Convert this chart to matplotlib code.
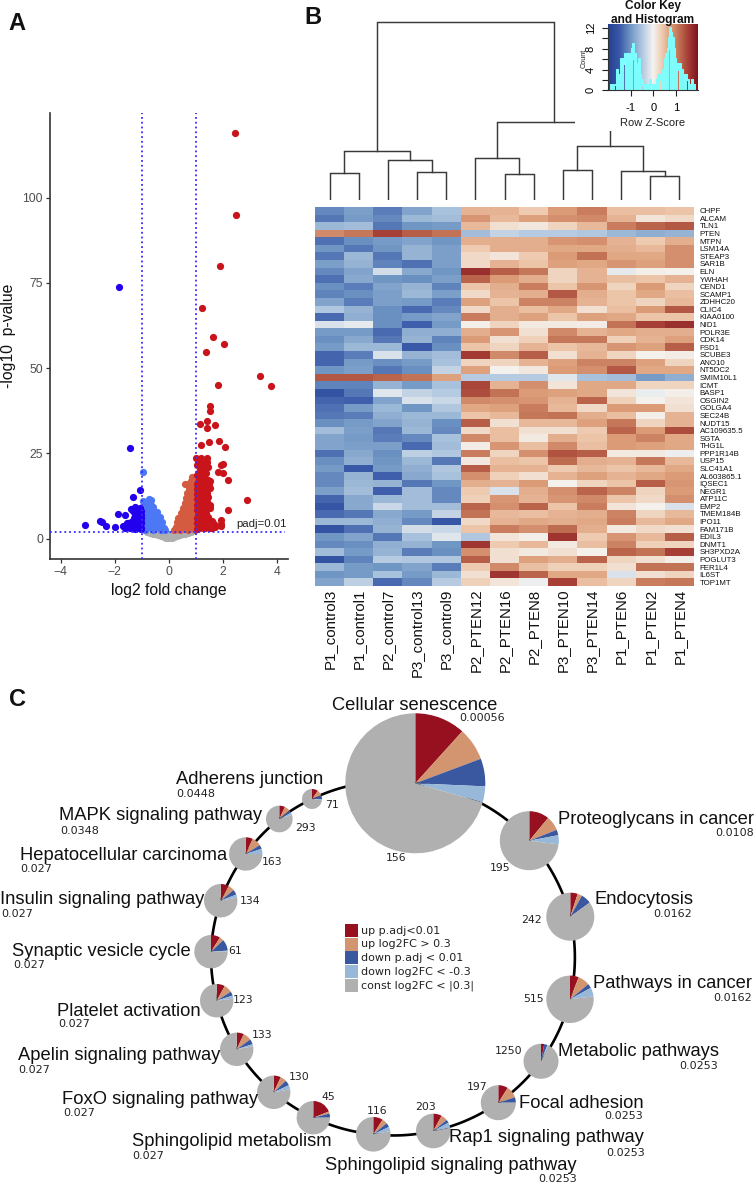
import numpy as np
import matplotlib
matplotlib.use("Agg")
import matplotlib.pyplot as plt
from matplotlib.colors import LinearSegmentedColormap
from matplotlib.patches import Rectangle

W, H = 755, 1185
SANS = "Liberation Sans"
DJ = "DejaVu Sans"
plt.rcParams["font.family"] = SANS

# ---------- Panel A data (log2FC, -log10 p) ----------
red_points = [(2.45,119),(2.47,95),(1.88,80),(1.2,67.5),(1.61,59.2),(2.04,57),(1.38,54.8),(3.37,47.6),(3.75,44.9),(1.8,45),
 (1.53,38.9),(1.53,37.4),(1.39,34.5),(1.16,33.7),(1.71,33.2),(1.42,32.4),(1.49,28.4),(1.86,28.6),(1.19,27.4),(2.08,27),
 (1.0,23.8),(1.18,23.6),(1.4,23.7),(1.39,22.6),(1.98,22),(1.91,21.5),(1.02,21.6),(1.2,21.6),(1.45,21.1),(1.15,20.1),
 (1.27,20.3),(1.82,19.6),(1.99,19.2),(1.02,18.7),(1.2,18.7),(1.33,17.7),(1.45,17.2),(2.18,17.2),(1.1,17.5),(1.5,17),
 (1.05,16),(1.15,16),(1.3,15.5),(1.4,15),(1.02,14.5),(1.12,14.5),(1.22,14),(1.35,14),(1.42,13.5),(1.05,13),
 (1.15,12.8),(1.25,12.6),(1.35,12.4),(1.45,12.2),(1.03,11.5),(1.13,11.3),(1.22,11.2),(1.32,11),(1.42,10.8),(1.05,10),
 (1.15,9.8),(1.25,9.6),(1.35,9.5),(1.5,9.8),(1.52,9),(2.86,11.3),(2.17,8.4),(1.05,8.5),(1.18,8.4),(1.3,8.6),
 (1.1,7.2),(1.22,7),(1.35,6.8),(1.45,6.3),(1.02,6),(1.15,5.8),(1.28,5.6),(1.4,5.4),(1.6,5.2),(1.92,5.5),
 (1.9,4.3),(1.05,4.6),(1.2,4.4),(1.35,4.2),(1.5,4.1),(1.65,4.2),(1.1,3.2),(1.25,3.1),(1.42,3.3),(1.58,3.2),(1.03,2.8),(1.9,3.8),
 (1.1,22.5),(1.3,22.8),(1.1,19.5),(1.35,19.2),(1.25,17),(1.08,15),(1.2,15.2),(1.3,13.2),(1.4,11.8),(1.12,10.5),(1.28,10.2),
 (1.42,9.6),(1.1,9),(1.22,8),(1.35,7.6),(1.5,5.2),(1.08,6.6),(1.22,5),(1.08,3.8),(1.32,3),(1.5,3),(1.7,3.4),(1.48,16),(1.52,14.8)]
blue_points = [(-1.83,73.8),(-1.43,26.6),(-1.06,14.3),(-1.34,12.2),(-1.27,9.4),(-1.4,8.8),(-1.88,7.1),(-1.62,7),(-3.09,4),(-2.54,5.3),
 (-2.47,4.8),(-2.33,3.7),(-1.99,3.5),(-1.7,3.6),(-1.6,3.9),(-1.55,4.5),(-1.5,3.4),(-1.4,4),(-1.35,5),(-1.3,3.3),
 (-1.25,4.3),(-1.22,5.5),(-1.2,6.6),(-1.15,3.2),(-1.12,4.5),(-1.1,5.5),(-1.08,7.2),(-1.05,8),(-1.05,3),(-1.03,6.2),(-1.02,4.5),(-1.18,7.8),
 (-1.62,3.2),(-1.52,4.6),(-1.45,3),(-1.42,5),(-1.36,3.7),(-1.3,4.8),(-1.3,6),(-1.25,2.8),(-1.22,3.6),(-1.18,5),(-1.15,6),(-1.12,3),
 (-1.12,7),(-1.08,3.8),(-1.05,5),(-1.02,2.8),(-1.02,7),(-1.15,8.3),(-1.25,7),(-1.08,9),(-1.38,3),(-1.32,8.2)]
pale_blue_points = [(-0.95,19.5),(-0.75,11.6),(-0.66,11.4),(-0.95,11),(-0.85,10.5),(-0.95,9.5),(-0.85,9.2),(-0.75,9.8),(-0.65,9.8),(-0.58,9.2),
 (-0.95,8),(-0.85,8),(-0.75,8),(-0.65,8.3),(-0.55,8),(-0.45,7.8),(-0.95,6.5),(-0.85,6.5),(-0.75,6.5),(-0.65,6.5),(-0.55,6.6),
 (-0.45,6.6),(-0.35,6.5),(-0.95,5),(-0.85,5),(-0.75,5),(-0.65,5),(-0.55,5),(-0.45,5),(-0.35,5),(-0.27,4.8),(-0.95,3.5),
 (-0.85,3.5),(-0.75,3.5),(-0.65,3.5),(-0.55,3.5),(-0.45,3.5),(-0.35,3.5),(-0.25,3.4),(-0.18,3),(-0.9,2.6),(-0.6,2.6),(-0.3,2.6),(-0.13,2.5)]
orange_points = [(0.85,18.1),(0.8,17),(0.6,16),(0.7,16),(0.92,16.5),(0.72,14.8),(0.82,15),(0.95,15),(0.67,13.5),(0.77,13.5),
 (0.87,13.5),(0.96,13.5),(0.62,12),(0.72,12),(0.82,12),(0.92,12),(0.58,10.5),(0.68,10.5),(0.78,10.5),(0.88,10.5),(0.96,10.5),
 (0.52,9),(0.62,9),(0.72,9),(0.82,9),(0.92,9),(0.46,7.6),(0.56,7.6),(0.66,7.6),(0.76,7.6),(0.86,7.6),(0.96,7.6),
 (0.35,6.2),(0.45,6.2),(0.55,6.2),(0.65,6.2),(0.75,6.2),(0.85,6.2),(0.95,6.2),(0.3,4.8),(0.4,4.8),(0.5,4.8),(0.6,4.8),
 (0.7,4.8),(0.8,4.8),(0.9,4.8),(0.25,3.4),(0.35,3.4),(0.45,3.4),(0.55,3.4),(0.65,3.4),(0.75,3.4),(0.85,3.4),(0.95,3.4),
 (0.17,2.6),(0.4,2.6),(0.7,2.6),(0.95,2.6)]
gray_points = [(0,0.1),(-0.1,0.3),(0.1,0.3),(-0.2,0.6),(0.2,0.6),(-0.3,0.8),(0.3,0.8),(-0.4,1.0),(0.4,1.0),(-0.5,1.3),(0.5,1.3),
 (-0.6,1.5),(0.6,1.5),(-0.7,1.7),(0.7,1.7),(-0.82,2.0),(0.82,2.0),(-0.25,1.6),(0.25,1.6),(-0.45,1.9),(0.45,1.9),(-0.15,1.6),(0.15,1.6),(-0.6,2.1),(0.6,2.1),(-0.3,2.2),(0.3,2.2),(0,1.3)]
fc_cut = 1
padj_cut = 2
volcano_xticks = [-4, -2, 0, 2, 4]
volcano_yticks = [0, 25, 50, 75, 100]

# ---------- Panel B data ----------
samples = ["P1_control3","P1_control1","P2_control7","P3_control13","P3_control9","P2_PTEN12","P2_PTEN16",
           "P2_PTEN8","P3_PTEN10","P3_PTEN14","P1_PTEN6","P1_PTEN2","P1_PTEN4"]
genes = ["CHPF","ALCAM","TLN1","PTEN","MTPN","LSM14A","STEAP3","SAR1B","ELN","YWHAH","CEND1","SCAMP1","ZDHHC20","CLIC4",
         "KIAA0100","NID1","POLR3E","CDK14","FSD1","SCUBE3","ANO10","NT5DC2","SMIM10L1","ICMT","BASP1","OSGIN2","GOLGA4",
         "SEC24B","NUDT15","AC109635.5","SGTA","THG1L","PPP1R14B","USP15","SLC41A1","AL603865.1","IQSEC1","NEGR1","ATP11C",
         "EMP2","TMEM184B","IPO11","FAM171B","EDIL3","DNMT1","SH3PXD2A","POGLUT3","FER1L4","IL6ST","TOP1MT"]
zscores = [
[-1.1,-.9,-1.2,-.85,-.55,.6,.6,.4,.8,1.05,.5,.5,.45],
[-1.25,-.95,-1.1,-.65,-.6,.85,.55,.75,.9,.95,.6,.15,.25],
[-.65,-.6,-1.25,-1,-.95,.55,.2,.12,.3,.55,1.05,1.25,1.35],
[.95,1.1,1.55,1.3,1.15,-.6,-.35,-.45,-.45,-.5,-.65,-.75,-.7],
[-1.3,-1.05,-.95,-.85,-1,.65,.65,.65,.85,.9,.6,.4,.65],
[-1,-1.25,-1,-.7,-.9,.4,.65,.65,.7,.7,.65,.55,.9],
[-1.25,-.65,-1.25,-.7,-.9,.25,.15,.4,.8,1.15,.7,.7,.9],
[-.9,-.7,-1.15,-1.3,-.9,.25,.6,.45,.75,.7,.85,.75,.9],
[-1.1,-.85,-.25,-.8,-1,1.7,1.3,1.1,.3,.6,-.1,.05,.02],
[-1.3,-.8,-1,-1.05,-.9,1.25,.8,.65,.3,.6,.5,.45,.6],
[-1.05,-1.2,-.85,-.7,-1.15,.45,.65,1.05,.45,.85,.3,.8,.3],
[-1.15,-1.05,-.9,-.65,-.9,.25,.6,.65,1.35,.65,.45,.7,.5],
[-.85,-1.2,-.9,-.95,-1.2,.75,.45,1,1,.6,.45,.3,.55],
[-.5,-.7,-1.05,-1.35,-1.1,.25,.65,.5,.7,.2,.5,.8,1.35],
[-1.35,-.75,-1.05,-.95,-.85,1.05,.65,.75,.45,.75,.7,.45,.45],
[-.2,-.1,-1.05,-1.45,-.95,.05,.3,.1,.1,.07,1.15,1.55,1.7],
[-.95,-.95,-1.35,-.75,-.75,.65,.85,.2,.95,.6,.7,.65,.65],
[-1.05,-.8,-1.25,-.7,-1.15,.8,.2,.35,1.1,1.1,.35,.6,.75],
[-.95,-.65,-.65,-1.5,-1.05,.45,.3,.6,.45,.55,.85,.75,1.3],
[-1.4,-1.2,-.2,-.7,-.6,1.6,.95,1.3,.2,.6,.3,.03,.07],
[-1.4,-.95,-1.05,-.95,-.55,.3,.3,.6,.75,1,1,.75,.3],
[-1,-.9,-1.25,-1.05,-.35,.75,.03,.12,.8,.9,1.35,.7,.7],
[1.35,1.35,1.25,1.15,.75,-.45,-.45,-.45,-.15,-.55,-.6,-.95,-.75],
[-1.15,-1.15,-.7,-.95,-.55,1.5,.6,.9,.15,.7,.7,.3,.3],
[-1.6,-1.25,-.15,-.35,-.45,1.45,1.15,.8,.75,.7,.15,-.07,.05],
[-1.4,-1.45,-.85,-.2,-.3,.95,.9,.85,.6,1.25,.35,.02,.15],
[-1.3,-.95,-.65,-1,-.5,.7,.75,1.05,.55,.25,.8,.8,.2],
[-1.25,-1.2,-.75,-.65,-.65,.45,.55,1.1,1.15,.65,.5,.05,.6],
[-1.05,-.95,-.85,-.7,-1.05,1.3,.2,.55,.55,.75,1.1,.3,.6],
[-.6,-.9,-1.25,-.65,-1.1,.25,.5,.2,.2,.4,1.25,.8,1.45],
[-.85,-.95,-1.2,-1.1,-.55,.95,.5,.1,.65,.45,.8,1,.7],
[-.85,-.9,-.9,-1.35,-.6,.07,.85,.5,.95,.5,.8,.75,.7],
[-1.3,-.8,-1.05,-.4,-.5,1.05,.3,.9,1.4,1.3,.1,.1,-.05],
[-1.05,-.75,-1,-.65,-1.25,.1,.5,.45,1.2,.65,.6,1.1,.55],
[-.95,-1.5,-.95,-.75,-.5,1.3,.6,.6,.4,.55,.45,.55,.7],
[-1.1,-.7,-1.45,-.8,-.55,.9,.35,.2,.6,.75,.6,.7,.8],
[-1.1,-.65,-.7,-1.25,-1,.65,.6,.8,.03,.3,.45,1.3,.85],
[-.9,-.6,-1.45,-.6,-1.1,.4,-.2,.65,.9,1.25,1,.3,.8],
[-1.4,-.8,-.65,-.6,-1.1,.35,.85,.6,.85,.95,.45,.25,.9],
[-1.55,-.8,-.3,-.6,-.6,1.25,.9,1.25,.45,1.05,.15,.03,-.2],
[-1.35,-1.25,-.8,-.95,-.35,1.15,.55,.5,.6,.65,1,.3,.55],
[-.65,-.65,-.75,-1.1,-1.55,.25,.6,.7,.65,.7,1.05,.55,.7],
[-1.6,-1.3,-.7,-.25,-.3,.45,1.05,.9,1.2,.65,.1,.25,.2],
[-1,-.85,-1.25,-.55,-.15,-.5,.15,.05,1.65,.4,.85,.55,1.3],
[-1.1,-1.05,-.75,-.7,-1,1.65,.4,.55,.1,.5,1,.35,.3],
[-.6,-.95,-.7,-1.2,-1.05,.9,.2,.1,.2,.03,1.25,1.15,1.55],
[-1.6,-1.15,-.45,-.5,-.5,1.3,.2,.75,.65,1.25,.3,.2,.05],
[-.65,-.95,-1,-.85,-1.2,.4,.95,.5,.35,.35,.2,1.15,1.15],
[-1,-.95,-.55,-.95,-.65,.2,1.65,1.25,.7,.7,-.2,.2,.3],
[-.85,-.4,-1.35,-1.1,-.45,.35,.15,-.05,1.55,.5,.3,1.05,1.1],
]
# dendrogram: (left, right, merge height); ints are leaf positions
dendro_tree = (((0, 1, 27.0), (2, (3, 4, 28.3), 40.3), 48.7),
               ((5, (6, 7, 25.7), 42.3), ((8, 9, 29.7), (10, (11, 12, 23.7), 29.3), 54.3), 78.0),
               178.3)
hist_edges = np.round(np.arange(-1.9, 1.9001, 0.05), 2)
hist_counts = [1,1,1,1,1,1,4,2,3,6,4,6,5,7,5,7,6,7,5,8,9,6,7,5,4,6,3,2,2,1,1,1,1,1,1,2,1,1,1,1,1,2,3,2,3,3,3,4,6,7,6,8,
               10,12,11,10,8,6,5,4,5,4,5,4,3,3,2,3,2,2,1,1,2,1,1,0]
key_xticks = [-1, 0, 1]
key_yticks = [0, 2, 4, 6, 8, 10, 12]
key_ylabels = ["0", "", "4", "", "8", "", "12"]

# ---------- Panel C data ----------
terms = ["Cellular senescence","Proteoglycans in cancer","Endocytosis","Pathways in cancer","Metabolic pathways","Focal adhesion",
         "Rap1 signaling pathway","Sphingolipid signaling pathway","Sphingolipid metabolism","FoxO signaling pathway",
         "Apelin signaling pathway","Platelet activation","Synaptic vesicle cycle","Insulin signaling pathway",
         "Hepatocellular carcinoma","MAPK signaling pathway","Adherens junction"]
term_padj = ["0.00056","0.0108","0.0162","0.0162","0.0253","0.0253","0.0253","0.0253","0.027","0.027","0.027","0.027","0.027",
             "0.027","0.027","0.0348","0.0448"]
term_counts = [156,195,242,515,1250,197,203,116,45,130,133,123,61,134,163,293,71]
up_sig   = [11.7,11,5,6,3,9,8,9,19,7,7,8,9,8,7,7,10]
up_fc    = [7.6,8,3,8,0,11,6,5,2,6,8,8,4,6,9,7,9]
down_sig = [6.4,3,7,3,3,5,3,4,4,5,5,4,11,5,4,3,6]
down_fc  = [3.7,5,0,6,1,0,5,4,0,4,2,3,1,3,5,3,2]
const_fc = [70.6,73,85,77,93,75,78,78,75,78,78,77,75,78,75,80,73]
legend_labels = ["up p.adj<0.01","up log2FC > 0.3","down p.adj < 0.01","down log2FC < -0.3","const log2FC < |0.3|"]

# ---------- Styles / layout (pixels) ----------
PIE_COLORS = ["#961020", "#D3956F", "#3A58A0", "#97B8D8", "#B0B0B0"]
node_x = [415.3,529.3,570.3,570,541,498.3,433.3,373.3,313.3,273.7,236.7,216.7,211,220.7,245.7,279.3,312]
node_y = [783.3,840.7,916.7,999.3,1061.3,1102.7,1131,1134.3,1117.7,1092.3,1049.3,1000.7,951.7,900.7,854,819,799]
node_r = [70,29.5,24,23.7,17.5,17.5,17.3,17.3,16.7,16.7,16.7,16.7,16.7,16.7,16.7,13.3,10]
ring_cx, ring_cy = 392, 957
# name: (anchor x, y, ha); value: (anchor x, y, ha); count: (x, y)
name_pos = [(332,706,"left"),(558,819,"left"),(594,900,"left"),(593,983,"left"),(558,1051,"left"),(519,1103,"left"),
            (644,1138,"right"),(577,1166,"right"),(132,1142,"left"),(62,1099,"left"),(18,1056,"left"),(57,1011,"left"),
            (12,951,"left"),(0,900,"left"),(20,855,"left"),(59,816,"left"),(176,780,"left")]
value_pos = [(505,718,"right"),(754,833,"right"),(692,914,"right"),(752,998,"right"),(718,1066,"right"),(643,1116,"right"),
             (645,1153,"right"),(577,1179,"right"),(132,1156,"left"),(63,1113,"left"),(18,1070,"left"),(58,1024,"left"),
             (13,965,"left"),(1,914,"left"),(20,869,"left"),(60,831,"left"),(176,794,"left")]
count_pos = [(396,858),(500,868),(532,920),(534,999),(509,1051),(477,1087),(426,1107),(377,1111),(328,1097),(299,1077),
             (262,1035),(243,1000),(235,951),(250,901),(272,862),(306,828),(332,805)]

fig = plt.figure(figsize=(W/100, H/100), dpi=100, facecolor="white")

def px_axes(x0, y0, x1, y1, **kw):
    return fig.add_axes([x0/W, 1-y1/H, (x1-x0)/W, (y1-y0)/H], **kw)

# ---------- A: volcano ----------
ax = px_axes(50, 112.7, 288, 559)
ax.set_xlim(-4.39, 4.39)
ax.set_ylim(-5.95, 124.9)
for pts, col in [(gray_points,"#AEAEAE"),(pale_blue_points,"#4D78F5"),(orange_points,"#D45A40"),
                 (blue_points,"#2200EE"),(red_points,"#C8141A")]:
    a = np.array(pts)
    ax.scatter(a[:,0], a[:,1], s=27, c=col, linewidths=0, zorder=2)
ax.axvline(-fc_cut, color="#3A2BFF", ls=":", lw=1.3, zorder=3)
ax.axvline(fc_cut, color="#3A2BFF", ls=":", lw=1.3, zorder=3)
ax.plot([-4.39, 4.27], [padj_cut, padj_cut], color="#3A2BFF", ls=":", lw=1.3, zorder=3)
for s in ["top","right"]:
    ax.spines[s].set_visible(False)
for s in ["left","bottom"]:
    ax.spines[s].set_linewidth(1.2); ax.spines[s].set_color("#333333")
ax.set_xticks(volcano_xticks); ax.set_yticks(volcano_yticks)
ax.tick_params(labelsize=8.7, labelcolor="#4D4D4D", color="#333333", length=3, width=0.9, pad=2)
fig.text(169/W, 1-590/H, "log2 fold change", fontsize=11.3, ha="center", va="center", color="#111111")
fig.text(9/W, 1-336/H, "-log10  p-value", fontsize=11.3, ha="center", va="center", rotation=90, color="#111111")
fig.text(236/W, 1-524/H, "padj=0.01", fontsize=8.2, ha="left", va="center", color="#222222")

# ---------- B: heatmap ----------
stops = [(-2,"#243F8F"),(-1.5,"#3A58A8"),(-1,"#7096C4"),(-.5,"#AFC6DF"),(0,"#F4F3F1"),(.4,"#EECBB0"),(.8,"#DC9C78"),
         (1.2,"#BE6C50"),(1.6,"#A33A33"),(2,"#7F1420")]
cmap = LinearSegmentedColormap.from_list("key", [((z+2)/4, c) for z, c in stops])

hm = px_axes(315, 207, 694, 586)
hm.pcolormesh(np.array(zscores), cmap=cmap, vmin=-2, vmax=2, rasterized=True)
hm.invert_yaxis()
hm.set_xticks(np.arange(len(samples))+.5)
hm.set_xticklabels(samples, rotation=90, fontsize=10.8, color="#111111")
hm.set_yticks(np.arange(len(genes))+.5)
hm.set_yticklabels(genes, fontsize=5.7, color="#111111")
hm.yaxis.tick_right()
hm.tick_params(axis="x", length=0, pad=2)
hm.tick_params(axis="y", length=0, pad=4)
for s in hm.spines.values():
    s.set_visible(False)

den = px_axes(315, 0, 694, 200)
den.set_xlim(0, len(samples)); den.set_ylim(0, 200); den.axis("off")
def draw(node):
    if isinstance(node, int):
        return node + .5, 0.0
    lx, lh = draw(node[0]); rx, rh = draw(node[1]); h = node[2]
    den.plot([lx, lx, rx, rx], [lh, h, h, rh], color="#3A3A3A", lw=1.05, solid_joinstyle="miter")
    return (lx + rx)/2, h
draw(dendro_tree)

# colour key (its white panel hides part of the dendrogram)
fig.add_artist(Rectangle((575/W, 1-131/H), 137/W, 131/H, transform=fig.transFigure, facecolor="white", edgecolor="none", zorder=1))
key = px_axes(608.3, 24.3, 698.3, 90.3)
key.set_zorder(5)
key.imshow(np.linspace(-2, 2, 256)[None, :], cmap=cmap, vmin=-2, vmax=2, aspect="auto", extent=(-2, 2, 0, 12.7))
key.vlines((hist_edges[:-1]+hist_edges[1:])/2, 0, hist_counts, color="#7DFFFF", lw=0.7)
key.stairs(hist_counts, hist_edges, color="#7DFFFF", lw=1.4)
key.set_xlim(-2, 2); key.set_ylim(0, 12.7)
key.set_xticks(key_xticks); key.set_yticks(key_yticks)
key.set_yticklabels(key_ylabels, rotation=90, va="center", fontsize=8)
key.set_xticklabels(["-1","0","1"], fontsize=8)
key.tick_params(length=4, width=0.8, color="#222222", pad=5)
for s in ["top","right"]:
    key.spines[s].set_visible(False)
for s in ["left","bottom"]:
    key.spines[s].set_linewidth(0.8); key.spines[s].set_color("#333333")
key.spines["left"].set_bounds(0, 12)
fig.text(653/W, 1-123/H, "Row Z-Score", fontsize=8, ha="center", va="center", color="#222222", zorder=6)
fig.text(584/W, 1-58/H, "Count", fontsize=5.2, rotation=90, ha="center", va="center", color="#222222", zorder=6)
fig.text(653/W, 1-6/H, "Color Key", fontsize=8.6, weight="bold", ha="center", va="center", color="#111111", zorder=6)
fig.text(653/W, 1-20/H, "and Histogram", fontsize=8.6, weight="bold", ha="center", va="center", color="#111111", zorder=6)

# ---------- C: pathway ring ----------
c = px_axes(0, 0, W, H)
c.set_zorder(3); c.patch.set_alpha(0)
nx, ny = np.array(node_x), np.array(node_y)
theta = np.unwrap(np.arctan2(ny-ring_cy, nx-ring_cx))
rad = np.hypot(nx-ring_cx, ny-ring_cy)
t_closed = np.r_[theta, theta[0]+2*np.pi*np.sign(theta[-1]-theta[0])]
r_closed = np.r_[rad, rad[0]]
for i in range(len(terms)):
    t = np.linspace(t_closed[i], t_closed[i+1], 40)
    r = np.linspace(r_closed[i], r_closed[i+1], 40)
    c.plot(ring_cx + r*np.cos(t), ring_cy + r*np.sin(t), color="black", lw=1.9, zorder=1, solid_capstyle="butt")
for i in range(len(terms)):
    vals = [up_sig[i], up_fc[i], down_sig[i], down_fc[i], const_fc[i]]
    wedges, _ = c.pie(vals, colors=PIE_COLORS, center=(node_x[i], node_y[i]), radius=node_r[i],
                      startangle=270, counterclock=True, frame=True, wedgeprops=dict(linewidth=0))
    for w in wedges:
        w.set_zorder(2)
    x, y, ha = name_pos[i]
    c.text(x, y, terms[i], fontsize=13.2, ha=ha, va="center", color="#111111", zorder=4)
    x, y, ha = value_pos[i]
    c.text(x, y, term_padj[i], fontsize=8, family=DJ, ha=ha, va="center", color="#222222", zorder=4)
    x, y = count_pos[i]
    c.text(x, y, str(term_counts[i]), fontsize=7.8, family=DJ, ha="center", va="center", color="#222222", zorder=4)
for k, lab in enumerate(legend_labels):
    yc = 930.5 + k*13.7
    c.add_patch(Rectangle((345, yc-6.5), 13, 13, facecolor=PIE_COLORS[k], edgecolor="none", zorder=3))
    c.text(361, yc, lab, fontsize=8, family=DJ, ha="left", va="center", color="#222222", zorder=4)
for letter, x, y in [("A",17,23),("B",313,18),("C",17,699)]:
    c.text(x, y, letter, fontsize=17, weight="bold", ha="center", va="center", color="#111111", zorder=4)
c.set_xlim(0, W); c.set_ylim(H, 0)
c.set_xticks([]); c.set_yticks([])
c.set_frame_on(False)

fig.savefig("out.png", dpi=100)
